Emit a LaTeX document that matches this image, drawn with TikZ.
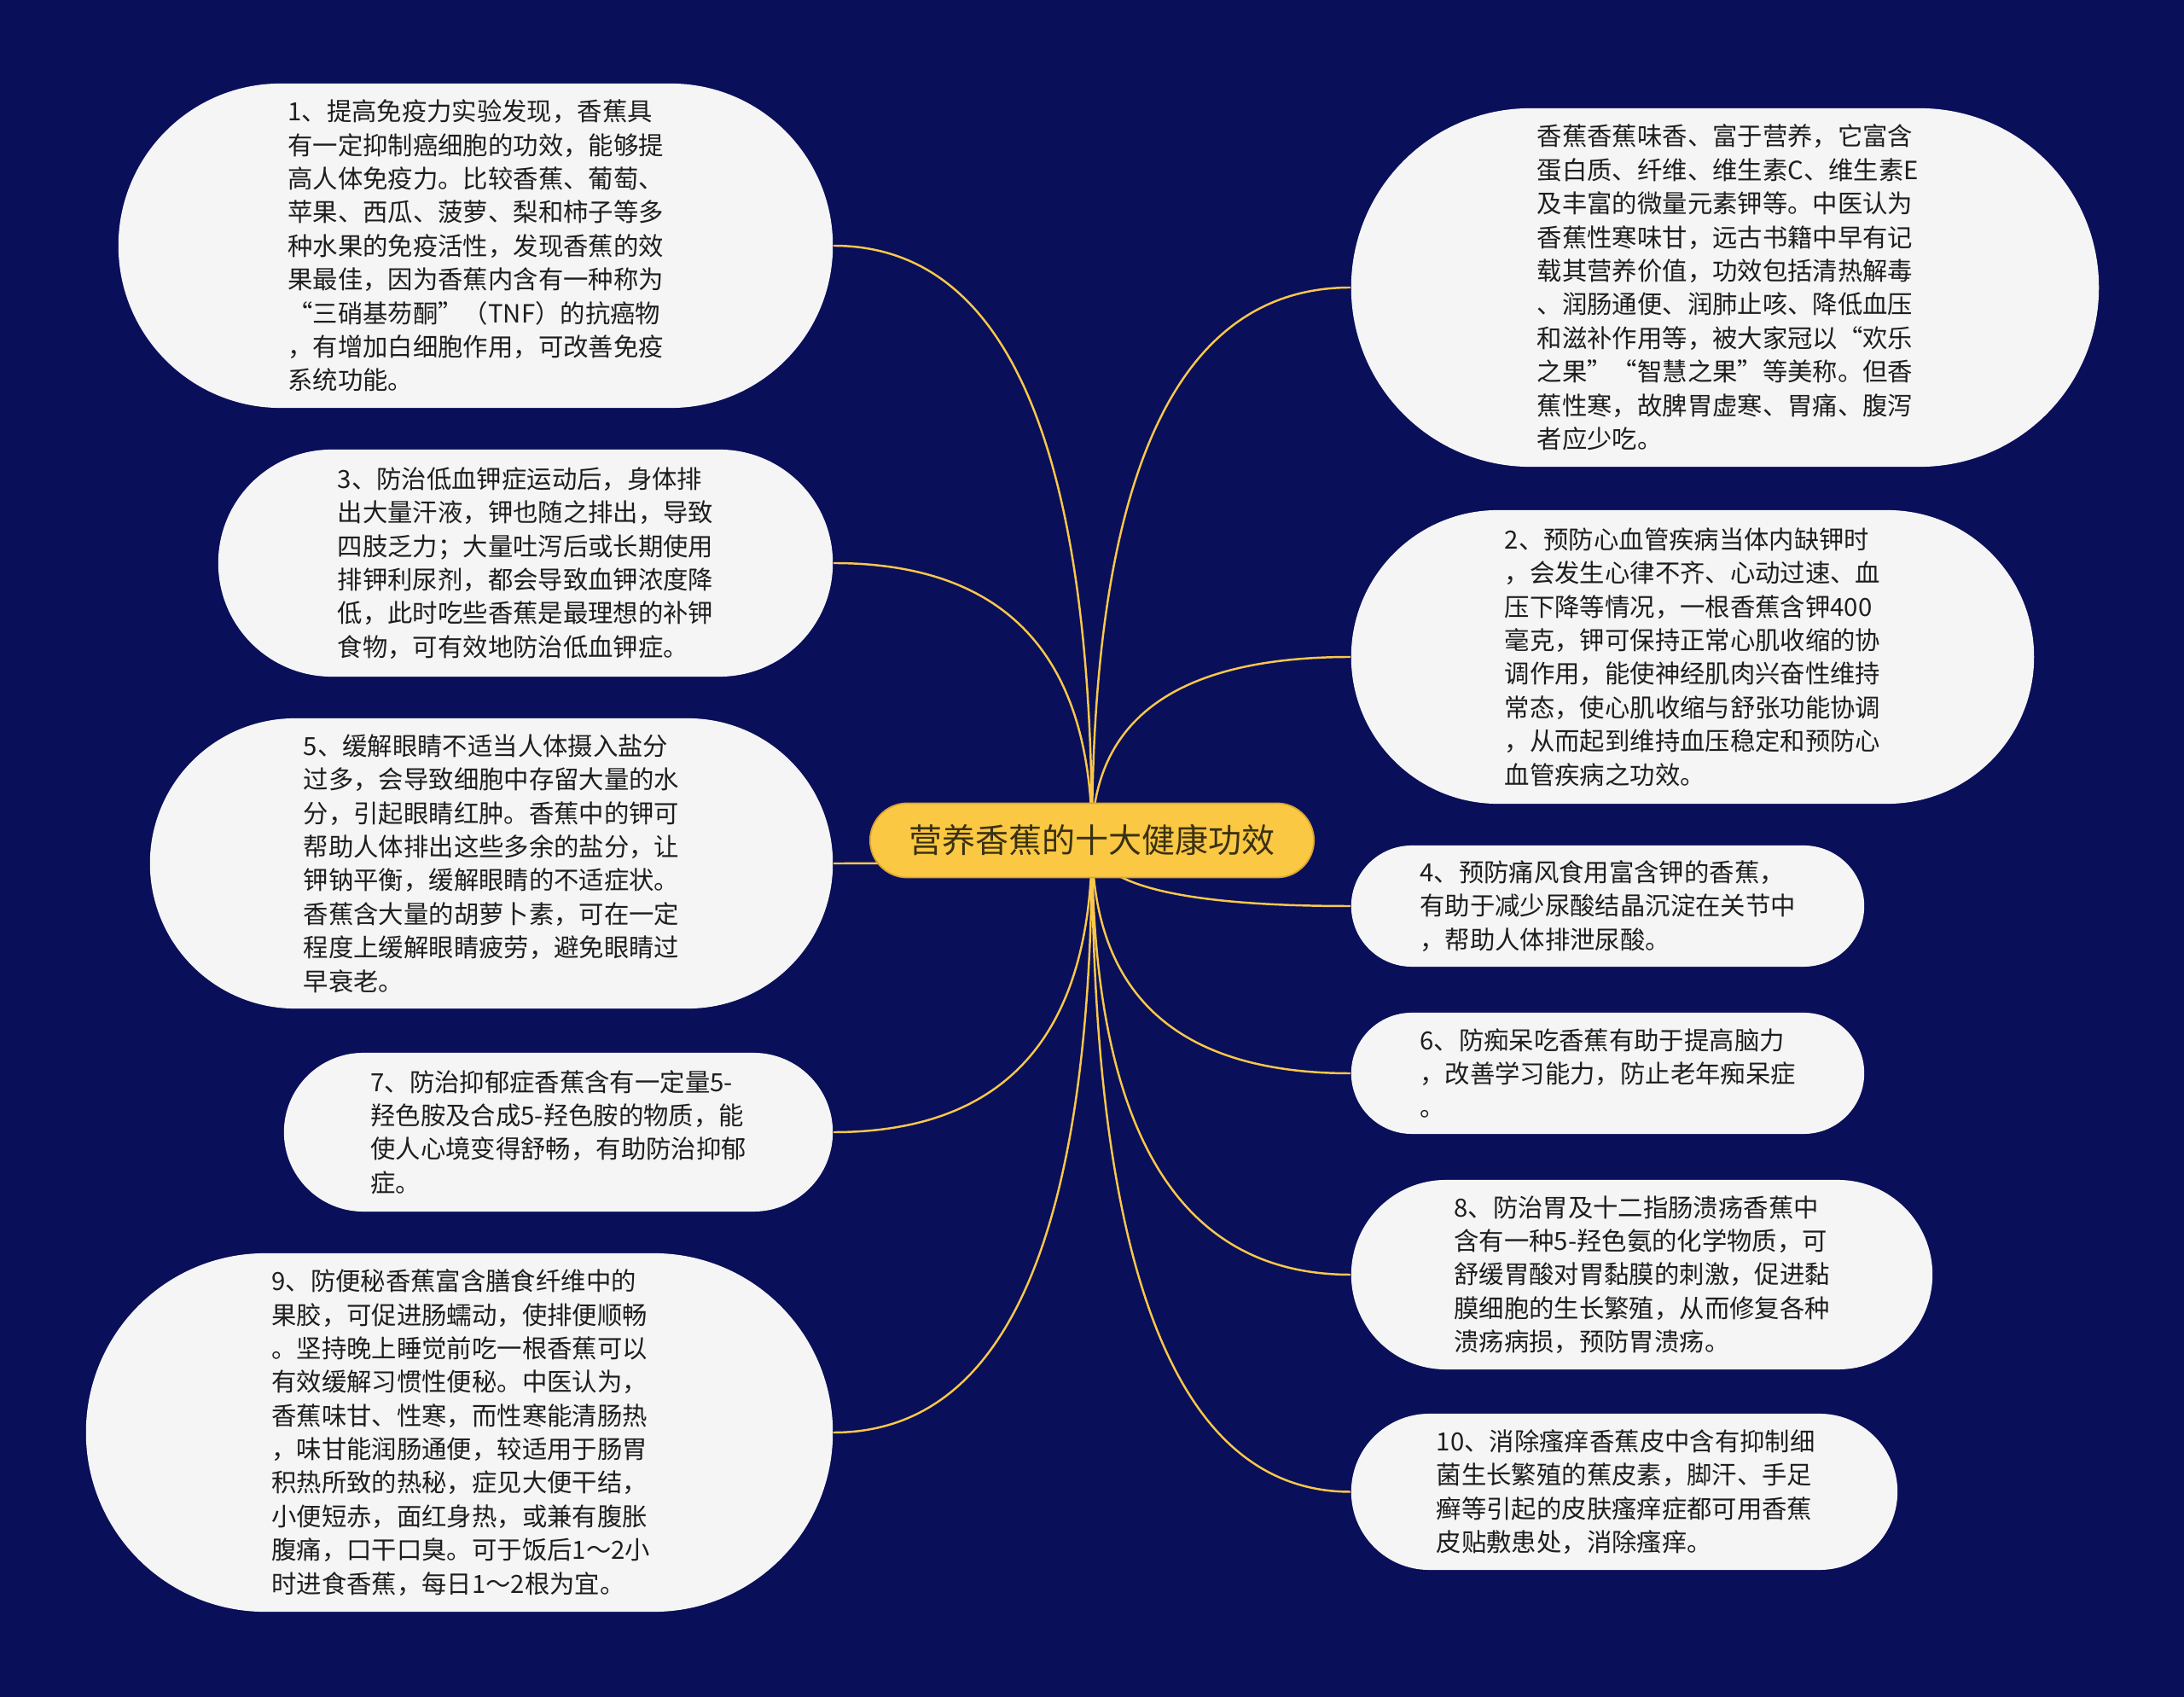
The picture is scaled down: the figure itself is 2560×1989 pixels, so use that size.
\documentclass[tikz,border=0pt]{standalone}
\usepackage{fontspec}
\setmainfont{Noto Sans CJK SC}
\usepackage{xcolor}
\usepackage{tikz}
\usetikzlibrary{calc}

\definecolor{navybg}{HTML}{0A0F5A}
\definecolor{leafgray}{HTML}{F5F5F5}
\definecolor{inkgray}{HTML}{1E1E1E}
\definecolor{rootyellow}{HTML}{FBC843}
\definecolor{rootedge}{HTML}{D9A531}
\definecolor{rootink}{HTML}{3A3112}
\definecolor{linkyellow}{HTML}{FAC84A}

\pgfdeclarelayer{backdrop}
\pgfdeclarelayer{links}
\pgfsetlayers{backdrop,links,main}

\begin{document}
\begin{tikzpicture}[
    x=0.01cm, y=-0.01cm,
    leaf/.style 2 args={fill=leafgray, text=inkgray, text width=4.4cm, align=left,
      inner sep=0pt, minimum width=#1, minimum height=#2, rounded corners=0.5*#2,
      font=\fontsize{8.35}{11.2}\selectfont},
    root/.style={fill=rootyellow, draw=rootedge, line width=0.5pt, text=rootink,
      inner sep=0pt, minimum width=5.2cm, minimum height=0.87cm, rounded corners=0.435cm,
      font=\fontsize{11.1}{13}\selectfont},
    link/.style={draw=linkyellow, line width=0.7pt,
      to path={.. controls ($(\tikztostart)!0.667!(\tikztostart |- \tikztotarget)$)
        and ($(\tikztotarget)!0.667!(\tikztostart |- \tikztotarget)$) .. (\tikztotarget)}},
  ]
  % Page
  \useasboundingbox (0,0) rectangle (2560,1989);
  \begin{pgfonlayer}{backdrop}
    \fill[navybg] (0,0) rectangle (2560,1989);
  \end{pgfonlayer}

  % Centre topic
  \node[root] (root) at (1280,985) {营养香蕉的十大健康功效};

  % Left branches
  \node[leaf={8.37cm}{3.8cm}] (n1) at (557.5,288) {1、提高免疫力实验发现，香蕉具\\有一定抑制癌细胞的功效，能够提\\高人体免疫力。比较香蕉、葡萄、\\苹果、西瓜、菠萝、梨和柿子等多\\种水果的免疫活性，发现香蕉的效\\果最佳，因为香蕉内含有一种称为\\“三硝基芴酮”（TNF）的抗癌物\\，有增加白细胞作用，可改善免疫\\系统功能。};
  \node[leaf={7.2cm}{2.66cm}] (n3) at (616,660) {3、防治低血钾症运动后，身体排\\出大量汗液，钾也随之排出，导致\\四肢乏力；大量吐泻后或长期使用\\排钾利尿剂，都会导致血钾浓度降\\低，此时吃些香蕉是最理想的补钾\\食物，可有效地防治低血钾症。};
  \node[leaf={8cm}{3.4cm}] (n5) at (576,1012) {5、缓解眼睛不适当人体摄入盐分\\过多，会导致细胞中存留大量的水\\分，引起眼睛红肿。香蕉中的钾可\\帮助人体排出这些多余的盐分，让\\钾钠平衡，缓解眼睛的不适症状。\\香蕉含大量的胡萝卜素，可在一定\\程度上缓解眼睛疲劳，避免眼睛过\\早衰老。};
  \node[leaf={6.43cm}{1.86cm}] (n7) at (654.5,1327) {7、防治抑郁症香蕉含有一定量5-\\羟色胺及合成5-羟色胺的物质，能\\使人心境变得舒畅，有助防治抑郁\\症。};
  \node[leaf={8.75cm}{4.2cm}] (n9) at (538.5,1679) {9、防便秘香蕉富含膳食纤维中的\\果胶，可促进肠蠕动，使排便顺畅\\。坚持晚上睡觉前吃一根香蕉可以\\有效缓解习惯性便秘。中医认为，\\香蕉味甘、性寒，而性寒能清肠热\\，味甘能润肠通便，较适用于肠胃\\积热所致的热秘，症见大便干结，\\小便短赤，面红身热，或兼有腹胀\\腹痛，口干口臭。可于饭后1～2小\\时进食香蕉，每日1～2根为宜。};

  % Right branches
  \node[leaf={8.76cm}{4.2cm}] (n0) at (2022,337) {香蕉香蕉味香、富于营养，它富含\\蛋白质、纤维、维生素C、维生素E\\及丰富的微量元素钾等。中医认为\\香蕉性寒味甘，远古书籍中早有记\\载其营养价值，功效包括清热解毒\\、润肠通便、润肺止咳、降低血压\\和滋补作用等，被大家冠以“欢乐\\之果”“智慧之果”等美称。但香\\蕉性寒，故脾胃虚寒、胃痛、腹泻\\者应少吃。};
  \node[leaf={8cm}{3.44cm}] (n2) at (1984,770) {2、预防心血管疾病当体内缺钾时\\，会发生心律不齐、心动过速、血\\压下降等情况，一根香蕉含钾400\\毫克，钾可保持正常心肌收缩的协\\调作用，能使神经肌肉兴奋性维持\\常态，使心肌收缩与舒张功能协调\\，从而起到维持血压稳定和预防心\\血管疾病之功效。};
  \node[leaf={6.01cm}{1.42cm}] (n4) at (1884.5,1062) {4、预防痛风食用富含钾的香蕉，\\有助于减少尿酸结晶沉淀在关节中\\，帮助人体排泄尿酸。};
  \node[leaf={6.01cm}{1.42cm}] (n6) at (1884.5,1258) {6、防痴呆吃香蕉有助于提高脑力\\，改善学习能力，防止老年痴呆症\\。};
  \node[leaf={6.81cm}{2.22cm}] (n8) at (1924.5,1494) {8、防治胃及十二指肠溃疡香蕉中\\含有一种5-羟色氨的化学物质，可\\舒缓胃酸对胃黏膜的刺激，促进黏\\膜细胞的生长繁殖，从而修复各种\\溃疡病损，预防胃溃疡。};
  \node[leaf={6.4cm}{1.83cm}] (n10) at (1904,1748.5) {10、消除瘙痒香蕉皮中含有抑制细\\菌生长繁殖的蕉皮素，脚汗、手足\\癣等引起的皮肤瘙痒症都可用香蕉\\皮贴敷患处，消除瘙痒。};

  % Connectors
  \begin{pgfonlayer}{links}
    \draw[link] (root.center) to (n1.east);
    \draw[link] (root.center) to (n3.east);
    \draw[link] (root.center) to (n5.east);
    \draw[link] (root.center) to (n7.east);
    \draw[link] (root.center) to (n9.east);
    \draw[link] (root.center) to (n0.west);
    \draw[link] (root.center) to (n2.west);
    \draw[link] (root.center) to (n4.west);
    \draw[link] (root.center) to (n6.west);
    \draw[link] (root.center) to (n8.west);
    \draw[link] (root.center) to (n10.west);
  \end{pgfonlayer}
\end{tikzpicture}
\end{document}
